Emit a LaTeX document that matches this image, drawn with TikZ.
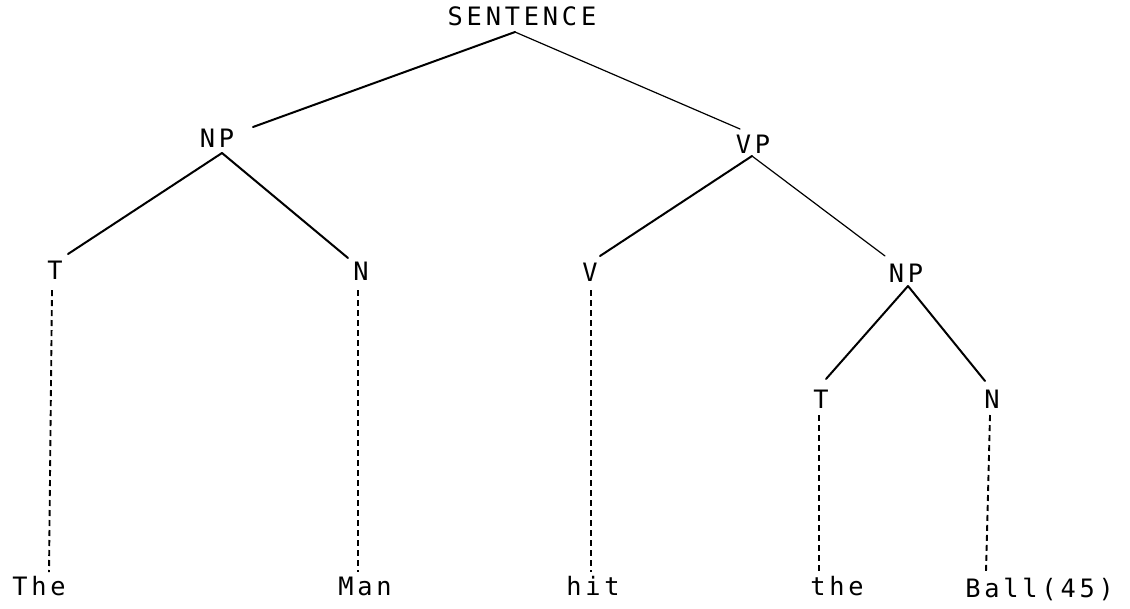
\documentclass[tikz,border=0pt]{standalone}
\usepackage{fontspec}
\newfontfamily\treefont[LetterSpace=15]{DejaVu Sans Mono}
\begin{document}
\begin{tikzpicture}[x=0.75pt,y=-0.75pt,
  lbl/.style={font=\treefont\fontsize{19}{21}\selectfont, inner sep=0pt, anchor=base},
  word/.style={lbl, anchor=base west},
  branch/.style={line width=1.5pt, line cap=round},
  thinbranch/.style={line width=0.9pt, line cap=round},
  leafline/.style={line width=1.4pt, dash pattern=on 4.5pt off 3pt}]
\useasboundingbox (0,0) rectangle (1130,608);
% category labels
\node[lbl] (S)   at (522,25)  {SENTENCE};
\node[lbl] (NP1) at (217,147) {NP};
\node[lbl] (VP)  at (753,153) {VP};
\node[lbl] (T1)  at (55,279)  {T};
\node[lbl] (N1)  at (361,280) {N};
\node[lbl] (V)   at (590,281) {V};
\node[lbl] (NP2) at (906,282) {NP};
\node[lbl] (T2)  at (821,408) {T};
\node[lbl] (N2)  at (992,408) {N};
% words
\node[word] (w1) at (12,595)  {The};
\node[word] (w2) at (338,595) {Man};
\node[word] (w3) at (566,595) {hit};
\node[word] (w4) at (810,595) {the};
\node[word] (w5) at (965,597) {Ball(45)};
% attachment points
\coordinate (S-b)   at (515,32);
\coordinate (NP1-t) at (253,127);
\coordinate (NP1-b) at (222,153);
\coordinate (VP-t)  at (740,129);
\coordinate (VP-b)  at (752,156);
\coordinate (T1-t)  at (68,254);
\coordinate (T1-b)  at (52,290);
\coordinate (N1-t)  at (348,258);
\coordinate (N1-b)  at (358,290);
\coordinate (V-t)   at (600,256);
\coordinate (V-b)   at (591,290);
\coordinate (NP2-t) at (885,256);
\coordinate (NP2-b) at (908,286);
\coordinate (T2-t)  at (826,379);
\coordinate (T2-b)  at (819,415);
\coordinate (N2-t)  at (985,381);
\coordinate (N2-b)  at (990,415);
\coordinate (w1-t)  at (49,572);
\coordinate (w2-t)  at (358,572);
\coordinate (w3-t)  at (591,572);
\coordinate (w4-t)  at (819,572);
\coordinate (w5-t)  at (986,572);
% branches
\draw[branch] (S-b) -- (NP1-t);
\draw[thinbranch] (S-b) -- (VP-t);
\draw[branch] (NP1-b) -- (T1-t);
\draw[branch] (NP1-b) -- (N1-t);
\draw[branch] (VP-b) -- (V-t);
\draw[thinbranch] (VP-b) -- (NP2-t);
\draw[branch] (NP2-b) -- (T2-t);
\draw[branch] (NP2-b) -- (N2-t);
% leaf lines
\draw[leafline] (T1-b) -- (w1-t);
\draw[leafline] (N1-b) -- (w2-t);
\draw[leafline] (V-b) -- (w3-t);
\draw[leafline] (T2-b) -- (w4-t);
\draw[leafline] (N2-b) -- (w5-t);
\end{tikzpicture}
\end{document}
